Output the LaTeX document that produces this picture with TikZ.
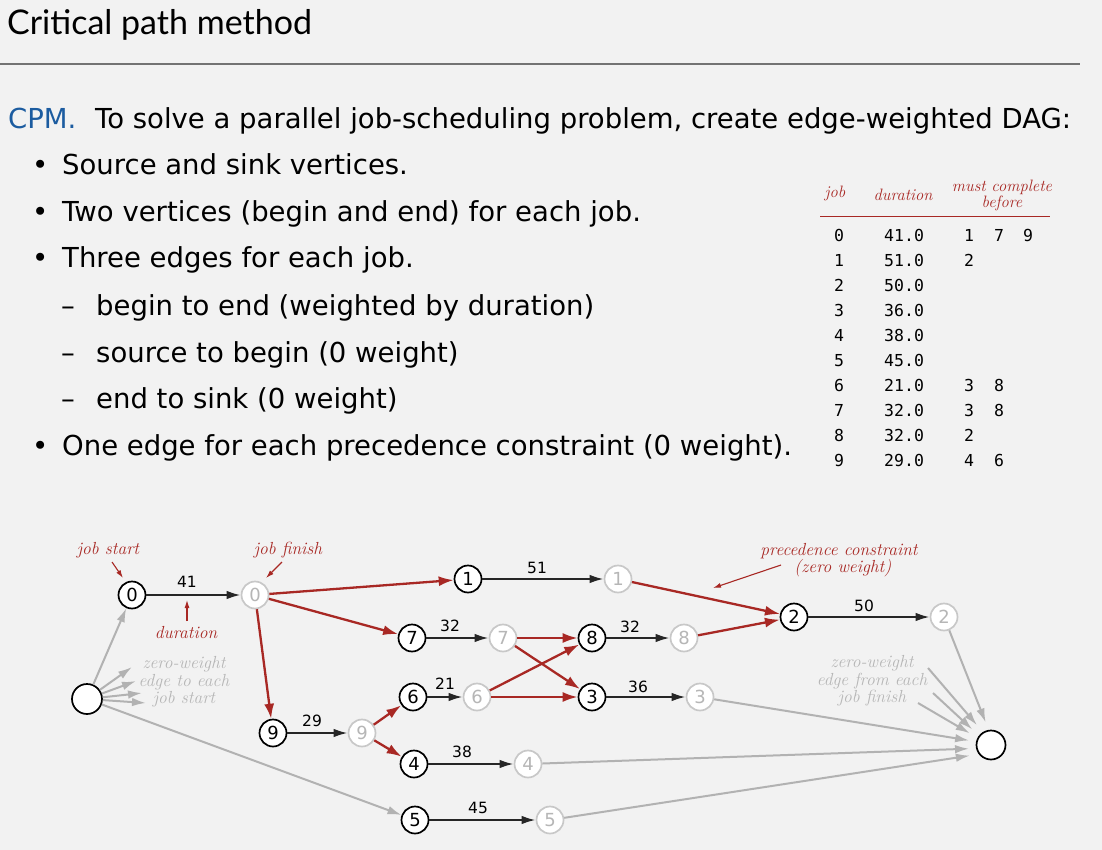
\documentclass[tikz,border=0pt]{standalone}
\usepackage{fontspec}
\setsansfont{DejaVu Sans}
\newfontfamily\titlefont{Lato}
\newfontfamily\tabfont{DejaVu Sans Mono}
\usetikzlibrary{arrows.meta}
\definecolor{bg}{RGB}{242,242,242}
\definecolor{cpmred}{RGB}{168,40,36}
\definecolor{cpmblue}{RGB}{28,92,160}
\definecolor{lgray}{RGB}{178,178,178}
\definecolor{tgray}{RGB}{182,182,182}
\definecolor{fgray}{RGB}{200,200,200}
\begin{document}
\begin{tikzpicture}[x=1pt,y=-1pt,
  body/.style={anchor=base west, inner sep=0pt, font=\sffamily\fontsize{27.5}{33}\selectfont},
  startv/.style={circle, draw=black, fill=white, line width=1.7pt, minimum size=27pt, inner sep=0pt, font=\sffamily\fontsize{18}{18}\selectfont},
  finv/.style={circle, draw=fgray, fill=white, text=tgray, line width=1.7pt, minimum size=27pt, inner sep=0pt, font=\sffamily\fontsize{18}{18}\selectfont},
  endv/.style={circle, draw=black, fill=white, line width=1.7pt, minimum size=29pt, inner sep=0pt},
  blk/.style={draw=black!85, line width=2pt, -{Latex[length=14pt,width=8.5pt]}},
  rede/.style={draw=cpmred, line width=2.3pt, -{Latex[length=15pt,width=10pt]}},
  graye/.style={draw=lgray, line width=2pt, -{Latex[length=14pt,width=8.5pt]}},
  wlabel/.style={inner sep=0pt, font=\sffamily\fontsize{15.5}{15.5}\selectfont},
  note/.style={inner sep=0pt, text=cpmred, font=\rmfamily\itshape\fontsize{17.5}{17.5}\selectfont},
  gnote/.style={inner sep=0pt, text=tgray, align=center, font=\rmfamily\itshape\fontsize{17.5}{17.5}\selectfont},
  notearrow/.style={draw=cpmred, line width=1.1pt, -{Latex[length=8pt,width=5pt]}},
  thead/.style={inner sep=0pt, text=cpmred, font=\rmfamily\itshape\fontsize{16.5}{16}\selectfont},
  tcell/.style={anchor=base, inner sep=0pt, font=\tabfont\fontsize{16.5}{16.5}\selectfont}
]
\fill[bg] (0,0) rectangle (1102,850);
\useasboundingbox (0,0) rectangle (1102,850);

% title
\node[anchor=base west, inner sep=0pt, font=\titlefont\fontsize{34}{40}\selectfont] (title) at (7,35) {Critical path method};
\draw[line width=1.8pt, color=black!55] (0,64) -- (1080,64);

% text
\node[body, text=cpmblue] (cpm) at (8,129) {CPM.};
\node[body] (intro) at (95,129) {To solve a parallel job-scheduling problem, create edge-weighted DAG:};
\foreach \y/\t [count=\i] in {175/Source and sink vertices., 222/Two vertices (begin and end) for each job., 268/Three edges for each job.}
  {\node[body] (b\i) at (32,\y) {\textbullet}; \node[body] (t\i) at (62,\y) {\t};}
\foreach \y/\t [count=\i] in {315/begin to end (weighted by duration), 362/source to begin (0 weight), 408/end to sink (0 weight)}
  {\node[body] (d\i) at (61,\y) {–}; \node[body] (s\i) at (96,\y) {\t};}
\node[body] (b4) at (32,455) {\textbullet};
\node[body] (t4) at (62,455) {One edge for each precedence constraint (0 weight).};

% table
\node[thead] (hjob) at (835,193) {job};
\node[thead] (hdur) at (903,195) {duration};
\node[thead, align=center] (hmust) at (1002,195) {must complete\\before};
\draw[cpmred, line width=1pt] (820,217) -- (1050,217);
\foreach \j/\d/\a/\b/\c [count=\r from 0] in {0/41.0/1/7/9, 1/51.0/2//, 2/50.0///, 3/36.0///, 4/38.0///, 5/45.0///, 6/21.0/3/8/, 7/32.0/3/8/, 8/32.0/2//, 9/29.0/4/6/}
{
  \pgfmathsetmacro{\yy}{241+25*\r}
  \node[tcell] (tj\r) at (839,\yy) {\j};
  \node[tcell, anchor=base west] (td\r) at (884,\yy) {\d};
  \node[tcell] (ta\r) at (969,\yy) {\a};
  \node[tcell] (tb\r) at (999,\yy) {\b};
  \node[tcell] (tc\r) at (1028,\yy) {\c};
}

% graph vertices
\node[endv, minimum size=30pt] (src) at (87,699) {};
\node[endv] (snk) at (991,745) {};
\node[startv] (s0) at (132,595) {0};  \node[finv] (f0) at (255,595) {0};
\node[startv] (s1) at (468,579) {1};  \node[finv] (f1) at (618,579) {1};
\node[startv] (s7) at (412,638) {7};  \node[finv] (f7) at (503,638) {7};
\node[startv] (s8) at (592,638) {8};  \node[finv] (f8) at (684,638) {8};
\node[startv] (s2) at (794,617) {2};  \node[finv] (f2) at (944,617) {2};
\node[startv] (s6) at (413,697) {6};  \node[finv] (f6) at (477,697) {6};
\node[startv] (s3) at (592,697) {3};  \node[finv] (f3) at (700,697) {3};
\node[startv] (s9) at (273,733) {9};  \node[finv] (f9) at (362,733) {9};
\node[startv] (s4) at (414,764) {4};  \node[finv] (f4) at (528,764) {4};
\node[startv] (s5) at (415,820) {5};  \node[finv] (f5) at (550,820) {5};

% job edges
\draw[blk] (s0) -- (f0); \node[wlabel] (w0) at (187,582) {41};
\draw[blk] (s1) -- (f1); \node[wlabel] (w1) at (537,568) {51};
\draw[blk] (s7) -- (f7); \node[wlabel] (w7) at (450,626) {32};
\draw[blk] (s8) -- (f8); \node[wlabel] (w8) at (630,627) {32};
\draw[blk] (s2) -- (f2); \node[wlabel] (w2) at (864,606) {50};
\draw[blk] (s6) -- (f6); \node[wlabel] (w6) at (445,684) {21};
\draw[blk] (s3) -- (f3); \node[wlabel] (w3) at (638,687) {36};
\draw[blk] (s9) -- (f9); \node[wlabel] (w9) at (312,721) {29};
\draw[blk] (s4) -- (f4); \node[wlabel] (w4) at (462,752) {38};
\draw[blk] (s5) -- (f5); \node[wlabel] (w5) at (478,808) {45};

% precedence edges
\draw[rede] (f0) -- (s1);
\draw[rede] (f0) -- (s7);
\draw[rede] (f0) -- (s9);
\draw[rede] (f1) -- (s2);
\draw[rede] (f8) -- (s2);
\draw[rede] (f7) -- (s8);
\draw[rede] (f7) -- (s3);
\draw[rede] (f6) -- (s8);
\draw[rede] (f6) -- (s3);
\draw[rede] (f9) -- (s6);
\draw[rede] (f9) -- (s4);

% source edges
\draw[graye] (src) -- (s0);
\draw[graye] (src) -- (s5);
\coordinate (st1) at (132,667);
\coordinate (st2) at (136,681);
\coordinate (st3) at (142,693);
\coordinate (st4) at (146,703);
\foreach \k in {1,...,4} \draw[graye] (src) -- (st\k);
\node[gnote] (gsrc) at (184,682) {zero-weight\\edge to each\\job start};

% sink edges
\draw[graye, shorten >=8pt] (f2) -- (snk.99);
\draw[graye, shorten >=7pt] (f3) -- (snk.167);
\draw[graye, shorten >=7pt] (f4) -- (snk.193);
\draw[graye, shorten >=9pt] (f5) -- (snk.217);
\coordinate (sk1) at (928,668);
\coordinate (sk2) at (933,693);
\coordinate (sk3) at (918,703);
\draw[graye, shorten >=9pt] (sk1) -- (snk.122);
\draw[graye, shorten >=9pt] (sk2) -- (snk.142);
\draw[graye, shorten >=9pt] (sk3) -- (snk.152);
\node[gnote] (gsnk) at (872,681) {zero-weight\\edge from each\\job finish};

% annotations
\node[note] (njs) at (108,550) {job start};
\coordinate (njsa) at (112,562); \coordinate (njsb) at (123,578);
\draw[notearrow] (njsa) -- (njsb);
\node[note] (njf) at (288,550) {job finish};
\coordinate (njfa) at (282,562); \coordinate (njfb) at (266,578);
\draw[notearrow] (njfa) -- (njfb);
\node[note] (ndur) at (186,633) {duration};
\coordinate (nda) at (187,621); \coordinate (ndb) at (187,600);
\draw[notearrow] (nda) -- (ndb);
\node[note, align=center] (nprec) at (839,560) {precedence constraint\\\phantom{x}(zero weight)};
\coordinate (npa) at (781,565); \coordinate (npb) at (713,588);
\draw[notearrow] (npa) -- (npb);
\end{tikzpicture}
\end{document}
